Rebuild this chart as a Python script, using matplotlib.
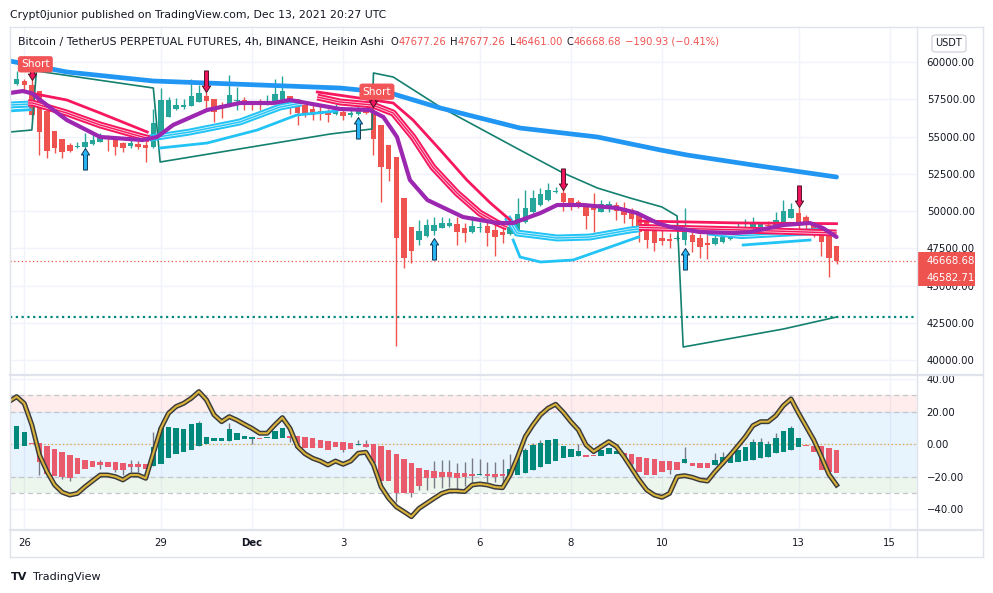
"""BTCUSDT perpetual, 4h Heikin Ashi — TradingView screenshot look-alike.

x axis is the 4h bar index (bar 0 = Nov 25 20:00 UTC, bar 1 = Nov 26 00:00).
"""
import matplotlib

matplotlib.use("Agg")  # no display
import matplotlib.pyplot as plt  # noqa: E402
import matplotlib.patheffects as pe  # noqa: E402
from matplotlib.lines import Line2D  # noqa: E402
from matplotlib.patches import FancyBboxPatch, Rectangle  # noqa: E402
from matplotlib.path import Path  # noqa: E402
from matplotlib.transforms import blended_transform_factory  # noqa: E402

# ---------------- data ----------------
ha_open = [58549, 58705, 58482, 58035, 56696, 55357, 54821, 54420, 54286, 54308,
           54464, 54598, 54732, 54754, 54531, 54375, 54486, 54420, 54308, 55089,
           56317, 56875, 56986, 57053, 57321, 57701, 57544, 57098, 56986, 57410,
           57433, 57321, 57277, 57210, 57210, 57321, 57723, 57544, 57098, 56875,
           56696, 56652, 56540, 56652, 56473, 56540, 56696, 56652, 55759, 54420,
           53638, 50848, 48907, 48058, 48355, 48661, 48884, 49018, 49107, 48840,
           48617, 48840, 48996, 48728, 48617, 48460, 48728, 49286, 49911, 50402,
           50737, 51250, 51228, 50848, 50625, 50446, 50179, 49956, 50290, 50402,
           50223, 50000, 49732, 49241, 48661, 48214, 48125, 48125, 48058, 48393,
           48170, 47835, 47768, 47947, 48103, 48282, 48438, 48728, 48951, 49018,
           49018, 49174, 49554, 49844, 49576, 49174, 48884, 48393, 47677.26]
ha_high = [59375, 58884, 58772, 58035, 56696, 55357, 54821, 54531, 54598, 55268,
           55268, 55245, 55089, 54754, 54598, 54911, 54687, 54978, 56875, 58281,
           57656, 57589, 57544, 58884, 58437, 57991, 57544, 57321, 59152, 58326,
           57656, 57321, 57544, 57812, 58839, 59040, 57723, 57544, 57098, 57098,
           57098, 56875, 57210, 56763, 56986, 57321, 56875, 57098, 55759, 54420,
           53638, 50848, 48907, 49398, 49442, 49621, 49576, 49509, 49576, 49174,
           49688, 49286, 49509, 49398, 48884, 49621, 50848, 51406, 51406, 51518,
           51853, 51630, 51630, 50848, 50737, 50513, 51183, 50737, 50670, 50625,
           50625, 50179, 49844, 49286, 48840, 48840, 48505, 48393, 50223, 48617,
           48438, 48617, 48840, 48951, 48840, 49286, 49465, 49621, 49286, 49353,
           49911, 50737, 50513, 50290, 49732, 49286, 48951, 48505, 47677.26]
ha_low = [58482, 57991, 56205, 53750, 53527, 53862, 53527, 53973, 54241, 54241,
          54420, 54598, 54040, 53750, 53973, 54196, 54152, 53259, 54241, 55089,
          56317, 56763, 56875, 57053, 57321, 56763, 55982, 56272, 56986, 56763,
          56763, 56763, 56763, 57143, 57210, 57321, 56540, 55759, 56317, 56094,
          56094, 55982, 56428, 56094, 56317, 56473, 56540, 53750, 50625, 52009,
          40916, 46161, 46496, 47724, 48282, 48393, 48840, 48951, 47724, 47902,
          48505, 48617, 47679, 47009, 47835, 48393, 48728, 49174, 49844, 50357,
          50670, 51183, 50000, 50067, 50223, 48795, 48572, 49911, 49956, 49398,
          49174, 48840, 47947, 47500, 47322, 47724, 47545, 48058, 47724, 47232,
          46830, 46786, 47724, 47835, 48058, 48214, 48393, 48661, 48884, 48617,
          48951, 49107, 49509, 48393, 48617, 48282, 47009, 45603, 46461.00]
ha_close = [58884, 58482, 56428, 55312, 54040, 54241, 53973, 54040, 54375, 54598,
            54799, 54911, 54665, 54308, 54241, 54531, 54308, 54241, 55937, 57477,
            57433, 57143, 57098, 57723, 57946, 57388, 56652, 56986, 57812, 57455,
            57210, 57098, 57098, 57254, 57879, 58035, 57165, 56607, 56540, 56473,
            56540, 56473, 56696, 56384, 56607, 56875, 56607, 54866, 52968, 52812,
            48170, 46875, 47344, 48661, 49063, 49063, 49174, 49174, 48617, 48505,
            49018, 48951, 48505, 48282, 48393, 48951, 49777, 50223, 50848, 51116,
            51406, 51295, 50625, 50402, 50290, 49688, 50045, 50446, 50446, 50000,
            49732, 49465, 48617, 48058, 47835, 47991, 47991, 48214, 48728, 47902,
            47612, 47724, 48214, 48282, 48550, 48661, 48907, 49286, 49107, 48974,
            49398, 50000, 50134, 49286, 49063, 48617, 47947, 46830, 46668.68]
last_change = "\u2212190.93 (\u22120.41%)"
second_price = 46582.71
support_level = 42900

day_ticks = [1, 19, 31, 43, 61, 73, 85, 103, 115]
day_labels = ["26", "29", "Dec", "3", "6", "8", "10", "13", "15"]
price_ticks = [40000, 42500, 45000, 47500, 50000, 52500, 55000, 57500, 60000]
osc_ticks = [40, 20, 0, -20, -40]

# long moving average (blue)
ma_x = [-0.9, 6.6, 18.0, 42.6, 49.2, 55.8, 66.3, 76.5, 84.8, 88.3, 97.0, 108]
ma_y = [60067, 59330, 58725, 58255, 57920, 56913, 55570, 54967, 54094, 53759,
        53087, 52282]

# trailing stop (dark green)
stop_x = [-0.9, 2.0, 2.6, 18.0, 18.9, 41.3, 46.8, 47.0, 49.6, 55.8, 66.3, 72.0,
          76.5, 80.8, 85.0, 87.0, 87.8, 101, 108]
stop_y = [55302, 55437, 59396, 58255, 53289, 55168, 55504, 59262, 58993, 56980,
          54094, 52551, 51544, 50873, 50269, 49665, 40874, 42082, 42887]

# purple average
purple_x = [-0.9, 0.8, 2.0, 3.1, 6.6, 11.0, 16.6, 18.5, 20.6, 25.1, 29.4, 33.8,
            36.0, 42.6, 46.5, 48.3, 50.1, 51.8, 54.1, 58.8, 63.3, 65.4, 69.0,
            71.2, 74.6, 79.1, 81.7, 84.4, 86.1, 90.0, 94.4, 96.6, 101.0, 104.5,
            106.2, 108.0]
purple_y = [57920, 58050, 57900, 57450, 56108, 54967, 54765, 54967, 55772, 56779,
            57249, 57249, 57450, 56846, 56779, 56309, 54967, 52081, 50739, 49598,
            49195, 49195, 49867, 50403, 50403, 50201, 49867, 49195, 48927, 48591,
            48524, 48591, 49061, 49195, 48860, 48256]

# EMA ribbon, one list of (x, y) pieces per line
bear_slow = [([1.8, 6.6, 11.0, 17.2], [57920, 57450, 56577, 55302]),
             ([39.6, 46.9, 49.6, 52.2, 55.8, 59.3, 62.4, 65.0],
              [57987, 57450, 57249, 56108, 54094, 52081, 50538, 49397]),
             ([82, 95, 108], [49330, 49200, 49150])]
bear_band = [([1.5, 2.1, 6.6, 11.0, 16.6, 17.5],
              [57250, 57249, 56577, 55772, 54967, 54850]),
             ([39.6, 42.6, 46.9, 49.6, 52.2, 54.8, 58.0, 61.0, 63.3, 64.6],
              [57650, 57316, 57114, 56577, 54967, 52953, 51209, 49867, 49195, 48927]),
             ([82, 95.7, 108], [48900, 48725, 48524])]
bull_band = [([-1.5, 1.8], [57100, 57180]),
             ([17.5, 18.5, 22.8, 29.4, 34.7, 37.5],
              [54900, 54967, 55302, 55973, 56980, 57250]),
             ([64.6, 65.9, 71.2, 75.5, 80.8, 82.0],
              [49598, 48524, 48188, 48255, 48725, 48800]),
             ([91, 95.5, 104.5, 106], [48600, 48350, 48600, 48650])]
bull_slow = [([-1.5, 1.8], [56700, 56800]),
             ([18.9, 25.1, 31.7, 36.9, 42.2], [54229, 54564, 55437, 56443, 56712]),
             ([65.4, 66.3, 69.0, 73.3, 77.8, 81.9],
              [48054, 46914, 46578, 46712, 47518, 48255]),
             ([95.7, 104.5], [47719, 48054])]

# signals
sell_idx = [2, 25, 47, 72, 103]
sell_tip = [58820, 57990, 56980, 51410, 50270]
short_idx = [2, 47]
buy_idx = [9, 45, 55, 88]
buy_tip = [54229, 56309, 48188, 47518]

# oscillator histogram (HA style) and signal line
osc_open = [-2.9, -0.8, 0.6, 0.6, -1.0, -2.9, -4.9, -6.6, -8.6, -9.6,
            -10.3, -11.1, -11.1, -11.1, -11.7, -12.1, -12.3, -12.3, -13.1, -12.1,
            -8.6, -6.2, -4.5, -3.5, -0.8, 0.2, 2.3, 2.3, 2.3, 2.7,
            3.3, 3.3, 3.7, 3.7, 3.3, 4.1, 5.1, 5.1, 4.3, 3.7,
            2.7, 2.1, 1.6, 1.2, 0.6, -0.2, 0.0, 0.0, -1.0, -3.5,
            -6.2, -9.0, -11.7, -14.4, -15.8, -16.4, -16.8, -17.2, -17.8, -17.8,
            -18.3, -18.7, -18.3, -18.3, -18.3, -18.9, -18.9, -17.4, -15.8, -13.7,
            -12.1, -10.1, -8.6, -7.6, -7.2, -6.6, -6.6, -7.2, -6.2, -6.2,
            -5.5, -6.2, -7.6, -8.2, -9.0, -10.3, -10.3, -10.7, -11.7, -11.7,
            -11.7, -11.7, -12.7, -12.7, -11.7, -11.1, -10.3, -9.6, -8.6, -7.6,
            -5.5, -4.9, -3.5, -1.4, -0.4, -0.8, -0.8, -2.1, -3.5]
osc_close = [11.3, 7.8, 0.0, -11.1, -18.3, -19.5, -19.9, -20.9, -18.3, -15.2,
             -13.7, -12.7, -13.7, -15.8, -15.8, -13.7, -14.2, -15.2, -1.4, 9.8,
             10.9, 10.3, 9.4, 12.3, 12.9, 4.7, 4.1, 4.1, 9.4, 6.8,
             5.1, 4.7, 3.5, 4.7, 8.2, 10.3, 3.7, -2.5, -2.5, -2.5,
             -2.5, -3.5, -1.4, -3.5, -2.9, 0.2, -1.4, -11.3, -22.6, -22.6,
             -30.2, -30.2, -30.2, -25.6, -20.9, -20.5, -19.9, -19.9, -20.5, -19.9,
             -19.3, -18.3, -19.3, -19.9, -19.3, -15.4, -8.6, -3.5, -0.4, 0.6,
             2.7, 3.1, -1.0, -2.9, -4.1, -7.6, -7.2, -3.5, -2.5, -4.1,
             -7.6, -12.3, -16.8, -18.9, -18.9, -16.8, -15.8, -15.8, -9.0, -13.1,
             -14.8, -14.8, -9.6, -7.6, -7.0, -3.5, -1.4, 1.2, 1.6, 0.0,
             3.7, 8.2, 10.3, 4.1, -1.0, -4.9, -15.8, -16.8, -17.4]
wick_idx = [3, 6, 7, 11, 13, 14, 15, 16, 18, 24, 28, 31, 36, 43, 45, 46, 50, 52,
            53, 54, 55, 56, 57, 58, 59, 60, 61, 62, 63, 64, 65, 67, 68, 69, 74,
            80, 81, 86, 88, 92, 93, 97, 98, 99, 100, 102]
wick_hi = [0.6, -4.9, -6.6, -9.6, -11.1, -11.7, -9.6, -10.3, 7.8, 14.4, 12.9, 4.7,
           5.1, 1.2, 2.7, 2.7, -6.2, -11.7, -14.4, -15.8, -10.3, -9.6, -9.6, -11.7,
           -11.1, -8.6, -9.0, -11.1, -11.1, -9.0, -6.0, -2.5, 0.6, 2.7, 0.0,
           -5.5, -6.2, -10.3, -1.4, -5.5, -4.9, 3.3, 4.1, 2.1, 6.8, 11.5]
wick_lo = [-18.9, -21.3, -22.6, -15.4, -16.8, -18.9, -16.8, -16.8, -13.1, -0.8,
           2.3, 0.0, 1.6, -4.9, -0.2, -1.4, -35.3, -32.2, -28.1, -28.1, -26.9,
           -26.9, -26.3, -27.3, -25.8, -25.2, -18.7, -23.4, -23.0, -25.2, -18.9,
           -17.4, -15.8, -13.7, -7.2, -9.6, -14.8, -18.5, -11.7, -12.7, -12.7,
           -9.6, -8.6, -7.6, -5.5, -3.5]
osc_line = [26.3, 29.3, 25.1, 11.9, -6.6, -16.8, -25.0, -29.5, -31.2, -30.2,
            -26.1, -22.5, -18.9, -18.9, -19.9, -21.9, -18.9, -18.9, -20.9, -5.5,
            9.8, 19.1, 23.2, 25.2, 28.3, 32.4, 27.3, 18.1, 13.9, 17.0,
            14.9, 12.3, 9.8, 6.8, 6.8, 11.9, 16.4, 9.8, -1.4, -5.9,
            -8.6, -10.3, -12.7, -10.3, -12.3, -10.3, -5.5, -4.9, -12.7, -26.1,
            -33.2, -38.4, -41.4, -44.5, -39.4, -36.3, -33.2, -30.2, -28.7, -28.7,
            -29.1, -25.0, -24.4, -25.0, -26.3, -26.7, -18.9, -7.6, 4.7, 11.9,
            18.1, 22.2, 24.6, 19.7, 13.9, 8.8, -0.4, -4.5, -1.4, 1.6,
            -1.4, -7.6, -14.8, -21.9, -28.1, -31.2, -32.6, -30.2, -19.9, -19.3,
            -20.3, -21.9, -22.6, -16.8, -11.7, -6.6, -1.0, 4.7, 11.5, 13.9,
            13.9, 17.6, 23.8, 27.9, 19.1, 10.9, 2.7, -7.6, -18.5, -25.0]

# ---------------- style ----------------
W, H = 993, 593
UP, DOWN = "#26A69A", "#EF5350"
TEXT = "#131722"
GRID = "#F0F3FA"
FRAME = "#E0E3EB"
PINK, CYAN = "#F7175F", "#22C3F5"
FS = 7.3
FS_HEAD = 7.9
FS_VAL = 7.2

plt.rcParams["font.family"] = ["DejaVu Sans"]
fig = plt.figure(figsize=(W / 100, H / 100), dpi=100)
fig.patch.set_facecolor("white")


def px_axes(x0, y0, x1, y1, **kw):
    return fig.add_axes([x0 / W, 1 - y1 / H, (x1 - x0) / W, (y1 - y0) / H], **kw)


def fig_line(x0, y0, x1, y1, lw=1.0):
    fig.add_artist(Line2D([x0 / W, x1 / W], [1 - y0 / H, 1 - y1 / H],
                          color=FRAME, lw=lw, transform=fig.transFigure))


ax = px_axes(10, 27, 917, 375)
osc = px_axes(10, 375, 917, 530, sharex=ax)

for a in (ax, osc):
    for s in a.spines.values():
        s.set_visible(False)
    a.set_facecolor("white")
    a.set_axisbelow(True)
    a.grid(True, color=GRID, lw=1)
    a.tick_params(length=0, colors=TEXT, labelsize=FS)
    a.yaxis.tick_right()

idx = list(range(len(ha_open)))
ax.set_xlim(-0.88, 118.6)
ax.set_ylim(38995, 62349)
ax.set_xticks(day_ticks)
ax.tick_params(axis="x", labelbottom=False)
ax.set_yticks(price_ticks)
ax.set_yticklabels([f"{p:.2f}" for p in price_ticks])
ax.tick_params(axis="y", pad=7)

# ---- candles ----
ccol = [UP if c >= o else DOWN for o, c in zip(ha_open, ha_close)]
ax.vlines(idx, ha_low, ha_high, colors=ccol, lw=1, zorder=3)
body_lo = [min(o, c) for o, c in zip(ha_open, ha_close)]
body_h = [max(abs(c - o), 60) for o, c in zip(ha_open, ha_close)]
ax.bar(idx, body_h, bottom=body_lo, width=0.72, color=ccol, lw=0, zorder=3)

# ---- overlays ----
ax.plot(stop_x, stop_y, color="#14806F", lw=1.2, zorder=4)
ax.plot(ma_x, ma_y, color="#2196F3", lw=3.4, solid_capstyle="round", zorder=4)


def band(pieces, color):
    for xs, ys in pieces:
        ax.plot(xs, ys, color=color, lw=5.0, zorder=5, solid_capstyle="butt")
        ax.plot(xs, ys, color="white", lw=2.2, alpha=0.8, zorder=5, solid_capstyle="butt")
        ax.plot(xs, ys, color=color, lw=1.0, zorder=5, solid_capstyle="butt")


def slow(pieces, color):
    for xs, ys in pieces:
        ax.plot(xs, ys, color=color, lw=2.0, zorder=5)


slow(bull_slow, CYAN)
band(bull_band, CYAN)
slow(bear_slow, PINK)
band(bear_band, PINK)
ax.plot(purple_x, purple_y, color="#9C27B0", lw=3.0, zorder=6, solid_capstyle="round")

ax.axhline(support_level, color="#00897B", lw=1.6, ls=(0, (1, 1.6)), zorder=2)
ax.axhline(ha_close[-1], color=DOWN, lw=0.9, ls=(0, (1, 2)), zorder=2)

# ---- signal arrows ----
down_arrow = Path([(-0.09, 1), (0.09, 1), (0.09, 0.3), (0.19, 0.3), (0, 0),
                   (-0.19, 0.3), (-0.09, 0.3), (-0.09, 1)],
                  [Path.MOVETO] + [Path.LINETO] * 6 + [Path.CLOSEPOLY])
up_arrow = Path([(x, -y) for x, y in down_arrow.vertices], down_arrow.codes)
ax.plot(sell_idx, sell_tip, ls="none", marker=down_arrow, ms=31, mfc="#F0155C",
        mec="#4A1023", mew=0.7, zorder=7)
ax.plot(buy_idx, buy_tip, ls="none", marker=up_arrow, ms=31, mfc="#29B6F6",
        mec="#0D3550", mew=0.7, zorder=7)
for i in short_idx:
    ax.annotate("Short", xy=(i, sell_tip[sell_idx.index(i)]), xytext=(2.5, 11),
                textcoords="offset points", ha="center", va="center",
                color="white", fontsize=7.6, zorder=8,
                bbox=dict(boxstyle="round,pad=0.3,rounding_size=0.25",
                          fc="#F25558", ec="none"))

# ---- price label on the right ----
ppx = (ax.get_ylim()[1] - ax.get_ylim()[0]) / 348.0
tr = blended_transform_factory(ax.transAxes, ax.transData)
ax.add_patch(Rectangle((1.0, ha_close[-1] - 25.5 * ppx), 58 / 907, 34 * ppx,
                       transform=tr, fc=DOWN, ec="none", clip_on=False, zorder=10))
ax.text(1 + 10 / 907, ha_close[-1] - 0.5 * ppx, f"{ha_close[-1]:.2f}", transform=tr,
        color="white", fontsize=FS, va="center", ha="left", zorder=11)
ax.text(1 + 10 / 907, ha_close[-1] - 17 * ppx, f"{second_price:.2f}", transform=tr,
        color="white", fontsize=FS, va="center", ha="left", zorder=11)

# ---- oscillator pane ----
osc.set_ylim(-52.7, 42.6)
osc.set_yticks(osc_ticks)
osc.set_yticklabels([f"{v:.2f}".replace("-", "\u2212") for v in osc_ticks])
osc.tick_params(axis="y", pad=7)
osc.set_xticks(day_ticks)
osc.set_xticklabels(day_labels)
osc.tick_params(axis="x", pad=6)
for lab in osc.get_xticklabels():
    if lab.get_text() == "Dec":
        lab.set_fontweight("bold")

osc.axhspan(20, 30, color="#FF5252", alpha=0.1, lw=0, zorder=1)
osc.axhspan(-20, 20, color="#2196F3", alpha=0.1, lw=0, zorder=1)
osc.axhspan(-30, -20, color="#4CAF50", alpha=0.1, lw=0, zorder=1)
for lvl in (30, 20, -20, -30):
    osc.axhline(lvl, color="#C3C6CC", lw=0.9, ls=(0, (4, 3)), zorder=1.5)
osc.axhline(0, color="#E6A23C", lw=0.9, ls=(0, (1, 2)), zorder=1.5)

ocol = ["#00897B" if c >= o else "#E85A6C" for o, c in zip(osc_open, osc_close)]
osc.vlines(wick_idx, wick_lo, wick_hi, colors="#787B86", lw=1, zorder=2)
o_lo = [min(o, c) for o, c in zip(osc_open, osc_close)]
o_h = [max(abs(c - o), 0.6) for o, c in zip(osc_open, osc_close)]
osc.bar(idx, o_h, bottom=o_lo, width=0.72, color=ocol, lw=0, zorder=3)
osc.plot(list(range(-1, len(osc_line) - 1)), osc_line, color="#D8B23A", lw=1.5, zorder=4,
         path_effects=[pe.withStroke(linewidth=3.6, foreground="#3B3B3B")])

# ---- frame ----
fig_line(10, 27, 983, 27)
fig_line(10, 557, 983, 557)
fig_line(10, 27, 10, 557)
fig_line(983, 27, 983, 557)
fig_line(917, 27, 917, 557)
fig_line(10, 375, 983, 375, lw=1.6)
fig_line(10, 530, 983, 530, lw=1.6)

# ---- texts ----
fig.text(10 / W, 1 - 15 / H, "Crypt0junior published on TradingView.com, Dec 13, 2021 20:27 UTC",
         color=TEXT, fontsize=7.8, va="center")

parts = [("Bitcoin / TetherUS PERPETUAL FUTURES, 4h, BINANCE, Heikin Ashi", TEXT, 0),
         ("O", TEXT, 5), (f"{ha_open[-1]:.2f}", DOWN, 0),
         ("H", TEXT, 3), (f"{ha_high[-1]:.2f}", DOWN, 0),
         ("L", TEXT, 3), (f"{ha_low[-1]:.2f}", DOWN, 0),
         ("C", TEXT, 3), (f"{ha_close[-1]:.2f}", DOWN, 0),
         (last_change, DOWN, 3)]
prev = fig.text(18 / W, 1 - 42 / H, parts[0][0], color=parts[0][1], fontsize=FS_HEAD,
                va="center")
for s, c, gap in parts[1:]:
    prev = ax.annotate(s, xy=(1, 0.5), xycoords=prev, xytext=(gap, 0),
                       textcoords="offset points", va="center", ha="left",
                       color=c, fontsize=FS_VAL, annotation_clip=False)

fig.add_artist(FancyBboxPatch((932 / W, 1 - 52 / H), 34 / W, 17 / H,
                              boxstyle="round,pad=0,rounding_size=0.004",
                              transform=fig.transFigure, fc="white", ec="#C9CCD3", lw=0.8))
fig.text(949 / W, 1 - 43.5 / H, "USDT", color=TEXT, fontsize=7, ha="center", va="center")

fig.text(11 / W, 1 - 577 / H, "TV", color=TEXT, fontsize=8, fontweight="bold", va="center")
fig.text(33 / W, 1 - 577 / H, "TradingView", color=TEXT, fontsize=8, va="center")

fig.savefig("out.png", dpi=100)
